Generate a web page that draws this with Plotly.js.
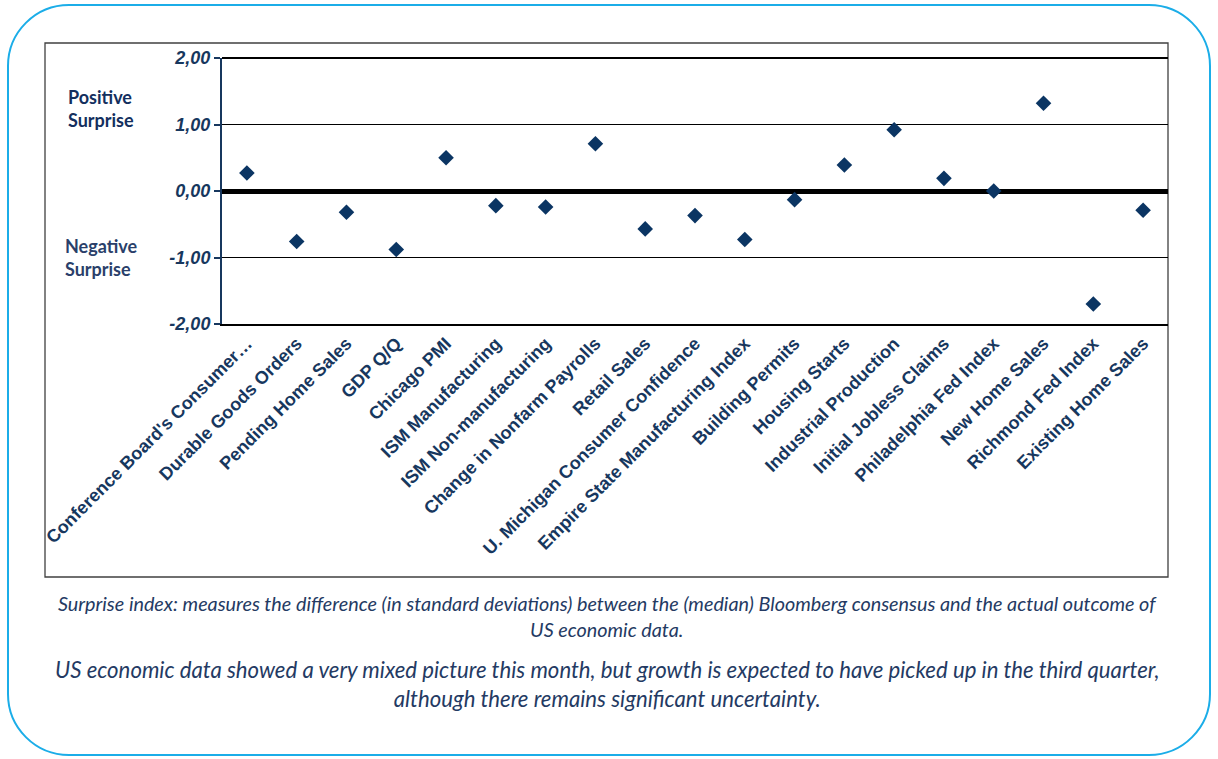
<!DOCTYPE html>
<html>
<head>
<meta charset="utf-8">
<script src="https://cdn.plot.ly/plotly-3.0.1.min.js"></script>
<style>
  html, body { margin: 0; padding: 0; background: #ffffff; }
  #frame { position: absolute; left: 7px; top: 4px; width: 1200px; height: 748px;
           border: 2px solid #1BADE8; border-radius: 62px; box-sizing: content-box; }
  #chart { position: absolute; left: 0; top: 0; width: 1218px; height: 759px; }
</style>
</head>
<body>
<div id="frame"></div>
<div id="chart"></div>
<script>
const categories = [
  "Conference Board's Consumer…", "Durable Goods Orders", "Pending Home Sales", "GDP Q/Q",
  "Chicago PMI", "ISM Manufacturing", "ISM Non-manufacturing", "Change in Nonfarm Payrolls",
  "Retail Sales", "U. Michigan Consumer Confidence", "Empire State Manufacturing Index",
  "Building Permits", "Housing Starts", "Industrial Production", "Initial Jobless Claims",
  "Philadelphia Fed Index", "New Home Sales", "Richmond Fed Index", "Existing Home Sales"
];
const surprise = [0.27, -0.76, -0.32, -0.88, 0.50, -0.22, -0.24, 0.71, -0.57, -0.37,
                  -0.73, -0.13, 0.39, 0.92, 0.19, 0.00, 1.32, -1.70, -0.29];
const yTickVals = [-2, -1, 0, 1, 2];
const yTickText = ["-2,00", "-1,00", "0,00", "1,00", "2,00"];
const sideLabels = ["Positive<br>Surprise", "Negative<br>Surprise"];
const caption1 = "Surprise index: measures the difference (in standard deviations) between the (median) Bloomberg consensus and the actual outcome of<br>US economic data.";
const caption2 = "US economic data showed a very mixed picture this month, but growth is expected to have picked up in the third quarter,<br>although there remains significant uncertainty.";

const NAVY = '#17375E';
const W = 1218, H = 759;
const L = 222, R = 1168, T = 58, B = 324;
const px = x => (x - L) / (R - L);
const py = y => (B - y) / (B - T);

const trace = {
  type: 'scatter', mode: 'markers',
  x: categories, y: surprise,
  marker: { symbol: 'diamond', size: 12, color: '#0B3563' },
  hoverinfo: 'x+y'
};

const layout = {
  width: W, height: H,
  margin: { l: L, r: W - R, t: T, b: H - B },
  paper_bgcolor: 'rgba(0,0,0,0)',
  plot_bgcolor: 'rgba(0,0,0,0)',
  showlegend: false,
  xaxis: {
    type: 'category',
    range: [-0.5, categories.length - 0.5],
    tickangle: -45,
    tickfont: { family: 'Liberation Sans, Arial, sans-serif', size: 18, color: NAVY, weight: 'bold' },
    showgrid: false, zeroline: false,
    showline: true, linecolor: '#000000', linewidth: 2,
    ticks: '', fixedrange: true, automargin: false
  },
  yaxis: {
    range: [-2, 2],
    tickvals: yTickVals, ticktext: yTickText,
    tickfont: { family: 'Liberation Sans, Arial, sans-serif', size: 18, color: NAVY, weight: 'bold', style: 'italic' },
    ticks: 'outside', ticklen: 6, tickcolor: NAVY, tickwidth: 2,
    showline: true, linecolor: NAVY, linewidth: 2,
    showgrid: true, gridcolor: '#000000', gridwidth: 1.3,
    zeroline: true, zerolinecolor: '#000000', zerolinewidth: 5,
    fixedrange: true, automargin: false
  },
  shapes: [
    { type: 'rect', xref: 'paper', yref: 'paper',
      x0: px(45), x1: px(1168), y0: py(577), y1: py(43),
      line: { color: '#404040', width: 1.3 }, fillcolor: 'rgba(0,0,0,0)', layer: 'below' },
    { type: 'line', xref: 'paper', yref: 'paper',
      x0: 0, x1: 1, y0: 1, y1: 1, line: { color: '#000000', width: 2 } }
  ],
  annotations: [
    { xref: 'paper', yref: 'paper', x: px(101), y: py(108), xanchor: 'center', yanchor: 'middle',
      text: sideLabels[0], showarrow: false,
      font: { family: 'Lato, Open Sans, sans-serif', size: 18, color: '#132F5E', weight: 'bold' }, align: 'left' },
    { xref: 'paper', yref: 'paper', x: px(101), y: py(257), xanchor: 'center', yanchor: 'middle',
      text: sideLabels[1], showarrow: false,
      font: { family: 'Lato, Open Sans, sans-serif', size: 18, color: '#2A3F6A', weight: 'bold' }, align: 'left' },
    { xref: 'paper', yref: 'paper', x: px(607), y: py(616), xanchor: 'center', yanchor: 'middle',
      text: caption1, showarrow: false,
      font: { family: 'Lato, Open Sans, sans-serif', size: 19.8, color: '#243A63', style: 'italic' }, align: 'center' },
    { xref: 'paper', yref: 'paper', x: px(607), y: py(684), xanchor: 'center', yanchor: 'middle',
      text: caption2, showarrow: false,
      font: { family: 'Lato, Open Sans, sans-serif', size: 22.2, color: '#243A63', style: 'italic' }, align: 'center' }
  ]
};

Plotly.newPlot('chart', [trace], layout, { displayModeBar: false, staticPlot: true });
</script>
</body>
</html>
